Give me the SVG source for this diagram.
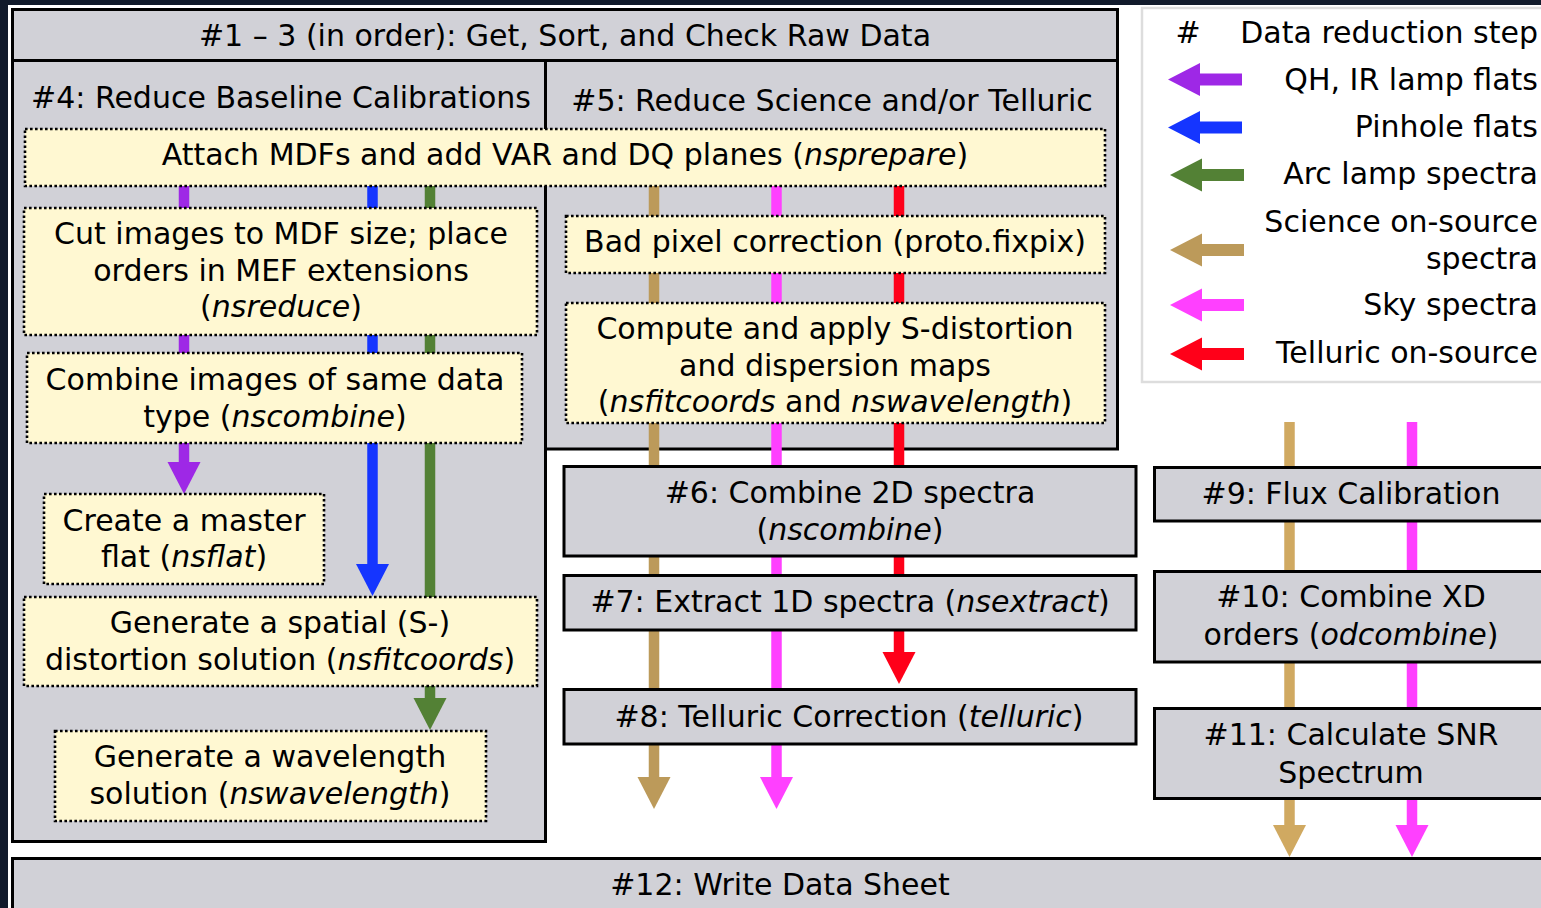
<svg xmlns="http://www.w3.org/2000/svg" width="1541" height="908" viewBox="0 0 1541 908">
<style>
text{font-family:"DejaVu Sans","Liberation Sans",sans-serif;font-size:30px;fill:#000;text-anchor:middle}
.it{font-style:italic}
.end{text-anchor:end}
.panel{fill:#D1D1D7;stroke:#000;stroke-width:3}
.step{fill:#D1D1D7;stroke:#000;stroke-width:3}
.task{fill:#FFF8D2;stroke:#000;stroke-width:2.6;stroke-dasharray:2.6 2.4}
.c{fill:none;stroke-width:10.5}
.lg{fill:none;stroke-width:12}
</style>
<defs>
<marker id="hP" markerUnits="userSpaceOnUse" markerWidth="34" markerHeight="36" refX="0" refY="17" orient="auto" overflow="visible"><path d="M0,0.5 L32,17 L0,33.5 Z" fill="#9E28E6"/></marker>
<marker id="hB" markerUnits="userSpaceOnUse" markerWidth="34" markerHeight="36" refX="0" refY="17" orient="auto" overflow="visible"><path d="M0,0.5 L32,17 L0,33.5 Z" fill="#1535FF"/></marker>
<marker id="hG" markerUnits="userSpaceOnUse" markerWidth="34" markerHeight="36" refX="0" refY="17" orient="auto" overflow="visible"><path d="M0,0.5 L32,17 L0,33.5 Z" fill="#538135"/></marker>
<marker id="hT" markerUnits="userSpaceOnUse" markerWidth="34" markerHeight="36" refX="0" refY="17" orient="auto" overflow="visible"><path d="M0,0.5 L32,17 L0,33.5 Z" fill="#BC9A5A"/></marker>
<marker id="hT2" markerUnits="userSpaceOnUse" markerWidth="34" markerHeight="36" refX="0" refY="17" orient="auto" overflow="visible"><path d="M0,0.5 L32,17 L0,33.5 Z" fill="#D0A961"/></marker>
<marker id="hM" markerUnits="userSpaceOnUse" markerWidth="34" markerHeight="36" refX="0" refY="17" orient="auto" overflow="visible"><path d="M0,0.5 L32,17 L0,33.5 Z" fill="#FF40FF"/></marker>
<marker id="hR" markerUnits="userSpaceOnUse" markerWidth="34" markerHeight="36" refX="0" refY="17" orient="auto" overflow="visible"><path d="M0,0.5 L32,17 L0,33.5 Z" fill="#FF0019"/></marker>
</defs>

<rect x="0" y="0" width="1541" height="908" fill="#FFFFFF"/>
<rect x="0" y="0" width="8" height="908" fill="#111A2B"/>
<rect x="0" y="0" width="1541" height="5" fill="#111A2B"/>

<g id="panel-1-3">
<rect class="panel" x="12.5" y="9.5" width="1105" height="51"/>
<text x="565" y="46">#1 – 3 (in order): Get, Sort, and Check Raw Data</text>
</g>
<g id="panel-4">
<rect class="panel" x="12.5" y="60.5" width="533" height="781"/>
<text x="281" y="108">#4: Reduce Baseline Calibrations</text>
</g>
<g id="panel-5">
<rect class="panel" x="545.5" y="60.5" width="572" height="388.5"/>
<text x="832" y="111">#5: Reduce Science and/or Telluric</text>
</g>

<g id="legend">
<rect x="1142" y="8" width="410" height="374" fill="#FFFFFF" stroke="#DDDDDD" stroke-width="2.5"/>
<text x="1188" y="43">#</text>
<text class="end" x="1538" y="43">Data reduction step</text>
<line class="lg" x1="1242" y1="79.5" x2="1200" y2="79.5" stroke="#9E28E6" marker-end="url(#hP)"/>
<text class="end" x="1538" y="90">QH, IR lamp flats</text>
<line class="lg" x1="1242" y1="127.5" x2="1200" y2="127.5" stroke="#1535FF" marker-end="url(#hB)"/>
<text class="end" x="1538" y="137">Pinhole flats</text>
<line class="lg" x1="1244" y1="175" x2="1202" y2="175" stroke="#538135" marker-end="url(#hG)"/>
<text class="end" x="1538" y="184">Arc lamp spectra</text>
<line class="lg" x1="1244" y1="250" x2="1202" y2="250" stroke="#BC9A5A" marker-end="url(#hT)"/>
<text class="end" x="1538" y="232">Science on-source</text>
<text class="end" x="1538" y="269">spectra</text>
<line class="lg" x1="1244" y1="305" x2="1202" y2="305" stroke="#FF40FF" marker-end="url(#hM)"/>
<text class="end" x="1538" y="315">Sky spectra</text>
<line class="lg" x1="1244" y1="354" x2="1202" y2="354" stroke="#FF0019" marker-end="url(#hR)"/>
<text class="end" x="1538" y="363">Telluric on-source</text>
</g>

<g id="connectors">
<line class="c" x1="184" y1="180" x2="184" y2="462" stroke="#9E28E6" marker-end="url(#hP)"/>
<line class="c" x1="372.5" y1="180" x2="372.5" y2="564" stroke="#1535FF" marker-end="url(#hB)"/>
<line class="c" x1="430" y1="180" x2="430" y2="698" stroke="#538135" marker-end="url(#hG)"/>
<line class="c" x1="654" y1="180" x2="654" y2="777" stroke="#BC9A5A" marker-end="url(#hT)"/>
<line class="c" x1="776.5" y1="180" x2="776.5" y2="777" stroke="#FF40FF" marker-end="url(#hM)"/>
<line class="c" x1="899" y1="180" x2="899" y2="652" stroke="#FF0019" marker-end="url(#hR)"/>
<line class="c" x1="1289.5" y1="422" x2="1289.5" y2="825" stroke="#D0A961" marker-end="url(#hT2)"/>
<line class="c" x1="1412" y1="422" x2="1412" y2="825" stroke="#FF40FF" marker-end="url(#hM)"/>
</g>

<g id="attach">
<rect class="task" x="25" y="129" width="1080" height="57"/>
<text x="565" y="165">Attach MDFs and add VAR and DQ planes (<tspan class="it">nsprepare</tspan>)</text>
</g>
<g id="cut">
<rect class="task" x="24" y="208" width="513" height="127"/>
<text x="281" y="244">Cut images to MDF size; place</text>
<text x="281" y="281">orders in MEF extensions</text>
<text x="281" y="317">(<tspan class="it">nsreduce</tspan>)</text>
</g>
<g id="combine-images">
<rect class="task" x="27" y="353" width="495" height="90"/>
<text x="275" y="390">Combine images of same data</text>
<text x="275" y="427">type (<tspan class="it">nscombine</tspan>)</text>
</g>
<g id="master-flat">
<rect class="task" x="44" y="494" width="280" height="90"/>
<text x="184" y="531">Create a master</text>
<text x="184" y="567">flat (<tspan class="it">nsflat</tspan>)</text>
</g>
<g id="spatial">
<rect class="task" x="24" y="597" width="513" height="89"/>
<text x="280" y="633">Generate a spatial (S-)</text>
<text x="280" y="670">distortion solution (<tspan class="it">nsfitcoords</tspan>)</text>
</g>
<g id="wavelength">
<rect class="task" x="55" y="731" width="431" height="90"/>
<text x="270" y="767">Generate a wavelength</text>
<text x="270" y="804">solution (<tspan class="it">nswavelength</tspan>)</text>
</g>
<g id="badpix">
<rect class="task" x="566" y="216" width="539" height="57"/>
<text x="835" y="252">Bad pixel correction (proto.fixpix)</text>
</g>
<g id="sdist">
<rect class="task" x="566" y="303" width="539" height="120"/>
<text x="835" y="339">Compute and apply S-distortion</text>
<text x="835" y="376">and dispersion maps</text>
<text x="835" y="412">(<tspan class="it">nsfitcoords</tspan> and <tspan class="it">nswavelength</tspan>)</text>
</g>

<g id="step6">
<rect class="step" x="564" y="466.5" width="572" height="89.5"/>
<text x="850" y="503">#6: Combine 2D spectra</text>
<text x="850" y="540">(<tspan class="it">nscombine</tspan>)</text>
</g>
<g id="step7">
<rect class="step" x="564" y="575.5" width="572" height="54.5"/>
<text x="850" y="612">#7: Extract 1D spectra (<tspan class="it">nsextract</tspan>)</text>
</g>
<g id="step8">
<rect class="step" x="564" y="689.5" width="572" height="54.5"/>
<text x="849" y="727">#8: Telluric Correction (<tspan class="it">telluric</tspan>)</text>
</g>
<g id="step9">
<rect class="step" x="1154.5" y="467.5" width="400" height="53.5"/>
<text x="1351" y="504">#9: Flux Calibration</text>
</g>
<g id="step10">
<rect class="step" x="1154.5" y="571.5" width="400" height="90.5"/>
<text x="1351" y="607">#10: Combine XD</text>
<text x="1351" y="645">orders (<tspan class="it">odcombine</tspan>)</text>
</g>
<g id="step11">
<rect class="step" x="1154.5" y="708.5" width="400" height="90"/>
<text x="1351" y="745">#11: Calculate SNR</text>
<text x="1351" y="783">Spectrum</text>
</g>
<g id="step12">
<rect class="step" x="12.5" y="858.5" width="1545" height="60"/>
<text x="780" y="895">#12: Write Data Sheet</text>
</g>
</svg>
